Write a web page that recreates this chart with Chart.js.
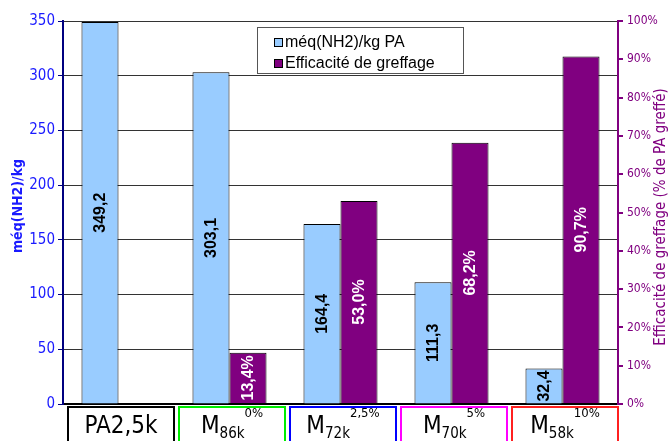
<!DOCTYPE html>
<html>
<head>
<meta charset="utf-8">
<script src="https://cdn.jsdelivr.net/npm/chart.js@4"></script>
<style>
  html, body { margin: 0; padding: 0; background: #fff; }
  #wrap { width: 670px; height: 441px; }
</style>
</head>
<body>
<div id="wrap"><canvas id="canvasGraft"></canvas></div>
<script>
// data
var categories = ['PA2,5k', 'M86k', 'M72k', 'M70k', 'M58k'];
var catMain = ['PA2,5k', 'M', 'M', 'M', 'M'];
var catSub = ['', '86k', '72k', '70k', '58k'];
var catSup = ['', '0%', '2,5%', '5%', '10%'];
var amine = [349.2, 303.1, 164.4, 111.3, 32.4];
var graft = [null, 13.4, 53.0, 68.2, 90.7];
var leftTicks = [0, 350, 50];
var rightTicks = [0, 100, 10];

var boxColors = ['#000000', '#00ee00', '#0000ff', '#ff00ff', '#ff2020'];
var blue = '#99ccff';
var purple = '#800080';

function fr(v) {
    return v.toFixed(1).replace('.', ',');
}

var decor = {
    id: 'decor',
    afterDatasetsDraw: function(chart) {
        var ctx = chart.ctx;
        ctx.save();
        ctx.font = 'bold 16px "Liberation Sans", Arial, sans-serif';
        ctx.textAlign = 'center';
        ctx.textBaseline = 'middle';
        chart.data.datasets.forEach(function(ds, di) {
            var meta = chart.getDatasetMeta(di);
            meta.data.forEach(function(bar, i) {
                var v = ds.data[i];
                if (v === null) return;
                var txt = fr(v) + (di === 1 ? '%' : '');
                var cy = (bar.y + bar.base) / 2;
                ctx.save();
                ctx.translate(bar.x, cy);
                ctx.rotate(-Math.PI / 2);
                ctx.fillStyle = di === 1 ? '#ffffff' : '#000000';
                ctx.fillText(txt, 0, 1);
                ctx.restore();
            });
        });
        ctx.restore();
    },
    afterDraw: function(chart) {
        var ctx = chart.ctx;
        var x = chart.scales.x;
        var area = chart.chartArea;
        var w = (x.right - x.left) / categories.length;
        ctx.save();

        // category boxes under the axis
        for (var i = 0; i < categories.length; i++) {
            var c = x.getPixelForValue(i);
            var l = c - w / 2 + 5;
            var r = c + w / 2;
            ctx.strokeStyle = boxColors[i];
            ctx.lineWidth = 2;
            ctx.strokeRect(l, area.bottom + 3, r - l, 60);

            var mid = (l + r) / 2;
            ctx.fillStyle = '#000';
            ctx.textBaseline = 'alphabetic';
            ctx.textAlign = 'left';
            ctx.font = '24px "DejaVu Sans Condensed", "DejaVu Sans", sans-serif';
            var wm = ctx.measureText(catMain[i]).width;
            ctx.font = '15px "DejaVu Sans Condensed", "DejaVu Sans", sans-serif';
            var ws = ctx.measureText(catSub[i]).width;
            ctx.font = '13px "DejaVu Sans Condensed", "DejaVu Sans", sans-serif';
            var wp = ctx.measureText(catSup[i]).width;
            var sx = mid - (wm + ws + wp) / 2;
            ctx.font = '24px "DejaVu Sans Condensed", "DejaVu Sans", sans-serif';
            ctx.fillText(catMain[i], sx, 433);
            ctx.font = '15px "DejaVu Sans Condensed", "DejaVu Sans", sans-serif';
            ctx.fillText(catSub[i], sx + wm, 438);
            ctx.font = '13px "DejaVu Sans Condensed", "DejaVu Sans", sans-serif';
            ctx.fillText(catSup[i], sx + wm + ws, 417);
        }

        // axis titles
        ctx.textAlign = 'center';
        ctx.textBaseline = 'middle';
        ctx.save();
        ctx.translate(18, 206);
        ctx.rotate(-Math.PI / 2);
        ctx.fillStyle = '#1a1aff';
        ctx.font = 'bold 14px "DejaVu Sans Condensed", "DejaVu Sans", sans-serif';
        ctx.fillText('méq(NH2)/kg', 0, 0);
        ctx.restore();

        ctx.save();
        ctx.translate(661, 217);
        ctx.rotate(-Math.PI / 2);
        ctx.fillStyle = purple;
        ctx.font = '15px "DejaVu Sans Condensed", "DejaVu Sans", sans-serif';
        ctx.fillText('Efficacité de greffage (% de PA greffé)', 0, 0);
        ctx.restore();

        // legend
        ctx.fillStyle = '#fff';
        ctx.fillRect(257, 27, 206, 46);
        ctx.strokeStyle = '#555';
        ctx.lineWidth = 1;
        ctx.strokeRect(257.5, 27.5, 206, 46);
        ctx.textAlign = 'left';
        ctx.font = '16px "Liberation Sans", Arial, sans-serif';
        chart.data.datasets.forEach(function(ds, di) {
            var yy = 42 + di * 21;
            ctx.fillStyle = ds.backgroundColor;
            ctx.fillRect(274, yy - 4, 8, 8);
            ctx.strokeStyle = '#000';
            ctx.strokeRect(274.5, yy - 3.5, 8, 8);
            ctx.fillStyle = '#000';
            ctx.fillText(ds.label, 285, yy + 1);
        });
        ctx.restore();
    }
};

var ctx = document.getElementById('canvasGraft').getContext('2d');
new Chart(ctx, {
    type: 'bar',
    data: {
        labels: categories,
        datasets: [
            {
                label: 'méq(NH2)/kg PA',
                data: amine,
                backgroundColor: blue,
                borderColor: '#000',
                borderWidth: 1,
                yAxisID: 'y',
                barPercentage: 1,
                categoryPercentage: 0.667
            },
            {
                label: 'Efficacité de greffage',
                data: graft,
                backgroundColor: purple,
                borderColor: '#000',
                borderWidth: 1,
                yAxisID: 'y1',
                barPercentage: 1,
                categoryPercentage: 0.667
            }
        ]
    },
    options: {
        responsive: true,
        maintainAspectRatio: false,
        animation: false,
        devicePixelRatio: 1,
        layout: { padding: { top: 21, left: 0, right: 0, bottom: 0 } },
        plugins: {
            legend: { display: false },
            tooltip: { enabled: false }
        },
        scales: {
            x: {
                grid: { display: false },
                border: { color: '#000', width: 2 },
                ticks: { display: false },
                afterFit: function(s) { s.height = 37; }
            },
            y: {
                position: 'left',
                min: leftTicks[0],
                max: leftTicks[1],
                ticks: {
                    stepSize: leftTicks[2],
                    color: '#1a1aff',
                    padding: 3,
                    font: { family: '"DejaVu Sans Condensed", "DejaVu Sans"', size: 15 }
                },
                grid: { color: '#333', tickColor: '#000080', tickLength: 5, lineWidth: 1 },
                border: { color: '#000080', width: 2 },
                afterFit: function(s) { s.width = 63; }
            },
            y1: {
                position: 'right',
                min: rightTicks[0],
                max: rightTicks[1],
                ticks: {
                    stepSize: rightTicks[2],
                    color: purple,
                    padding: 4,
                    font: { family: '"DejaVu Sans Condensed", "DejaVu Sans"', size: 12 },
                    callback: function(v) { return v + '%'; }
                },
                grid: { drawOnChartArea: false, color: purple, tickLength: 5, lineWidth: 2 },
                border: { color: purple, width: 2 },
                afterFit: function(s) { s.width = 52; }
            }
        }
    },
    plugins: [decor]
});
</script>
</body>
</html>
